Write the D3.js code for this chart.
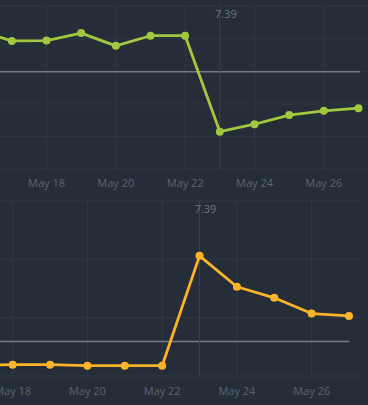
<!DOCTYPE html>
<html>
<head>
<meta charset="utf-8">
<script src="https://cdn.jsdelivr.net/npm/d3@7"></script>
<style>
  html, body { margin: 0; padding: 0; background: #252d38; }
  svg { display: block; }
</style>
</head>
<body>
<svg id="chart" width="368" height="405"></svg>
<script>
// ---- data ----
const topDays = ["2024-05-16","2024-05-17","2024-05-18","2024-05-19","2024-05-20","2024-05-21","2024-05-22","2024-05-23","2024-05-24","2024-05-25","2024-05-26","2024-05-27"];
const topValues = [4.26, 3.93, 3.94, 4.17, 3.78, 4.09, 4.09, 1.15, 1.38, 1.66, 1.79, 1.87];
const topRef = 2.99;

const bottomDays = ["2024-05-17","2024-05-18","2024-05-19","2024-05-20","2024-05-21","2024-05-22","2024-05-23","2024-05-24","2024-05-25","2024-05-26","2024-05-27"];
const bottomValues = [0.18, 0.194, 0.194, 0.177, 0.177, 0.177, 2.06, 1.53, 1.34, 1.07, 1.03];
const bottomRef = 0.59;

const tickDays = ["2024-05-18","2024-05-20","2024-05-22","2024-05-24","2024-05-26"];
const markerDay = "2024-05-23";
const markerLabel = "7.39";

// ---- drawing ----
const parse = d3.timeParse("%Y-%m-%d");
const fmt = d3.timeFormat("%b %-d");
const svg = d3.select("#chart");

const gridColor = "#2f3945";
const refColor = "#777c82";
const textColor = "#5b646e";
const markerText = "#6b7580";

function panel(cfg) {
  const g = svg.append("g");
  const x = d3.scaleTime().domain([parse("2024-05-18"), parse("2024-05-27")]).range(cfg.xRange);
  const y = d3.scaleLinear().domain(cfg.yDomain).range(cfg.yRange);
  const yTicks = d3.range(cfg.yDomain[0], cfg.yDomain[1] + 1e-9, 1);

  // horizontal gridlines
  g.selectAll(".hg").data(yTicks).join("line")
    .attr("x1", 0).attr("x2", cfg.gridRight)
    .attr("y1", d => y(d)).attr("y2", d => y(d))
    .attr("stroke", gridColor).attr("stroke-width", 1);

  // vertical gridlines
  const ticks = tickDays.map(parse);
  g.selectAll(".vg").data(ticks).join("line")
    .attr("x1", d => x(d)).attr("x2", d => x(d))
    .attr("y1", cfg.yRange[1]).attr("y2", cfg.yRange[0])
    .attr("stroke", gridColor).attr("stroke-width", 1);

  // x axis labels
  g.selectAll(".xl").data(ticks).join("text")
    .attr("x", d => x(d)).attr("y", cfg.labelY)
    .attr("text-anchor", "middle")
    .attr("font-family", "'Open Sans', sans-serif")
    .attr("font-size", 11)
    .attr("fill", textColor)
    .text(d => fmt(d));

  const dates = cfg.days.map(parse);

  // reference line
  g.append("line")
    .attr("x1", 0).attr("x2", x(dates[dates.length - 1]) + cfg.refExtra)
    .attr("y1", y(cfg.ref)).attr("y2", y(cfg.ref))
    .attr("stroke", refColor).attr("stroke-width", 1.5);

  // marker line
  const md = parse(markerDay);
  g.append("line")
    .attr("x1", x(md)).attr("x2", x(md))
    .attr("y1", cfg.yRange[1]).attr("y2", cfg.yRange[0])
    .attr("stroke", "#3a434e").attr("stroke-width", 1);
  g.append("text")
    .attr("x", x(md) + 6).attr("y", cfg.yRange[1] + 12)
    .attr("text-anchor", "middle")
    .attr("font-family", "'Open Sans', sans-serif")
    .attr("font-size", 11)
    .attr("fill", markerText)
    .text(markerLabel);

  const pts = dates.map((d, i) => ({ d, v: cfg.values[i] }));
  g.append("path").datum(pts)
    .attr("fill", "none")
    .attr("stroke", cfg.color)
    .attr("stroke-width", 2.8)
    .attr("stroke-linejoin", "round")
    .attr("d", d3.line().x(p => x(p.d)).y(p => y(p.v)));
  g.selectAll(".pt").data(pts).join("circle")
    .attr("cx", p => x(p.d)).attr("cy", p => y(p.v))
    .attr("r", 4)
    .attr("fill", cfg.color);
}

panel({
  days: topDays, values: topValues, ref: topRef,
  xRange: [46.5, 358.5],
  yDomain: [0, 5], yRange: [169.3, 6],
  gridRight: 368, refExtra: 1.5,
  labelY: 187, color: "#a2c83f"
});

panel({
  days: bottomDays, values: bottomValues, ref: bottomRef,
  xRange: [12.7, 349],
  yDomain: [0, 3], yRange: [376, 201],
  gridRight: 360.5, refExtra: 0.5,
  labelY: 395, color: "#fbb42a"
});
</script>
</body>
</html>
